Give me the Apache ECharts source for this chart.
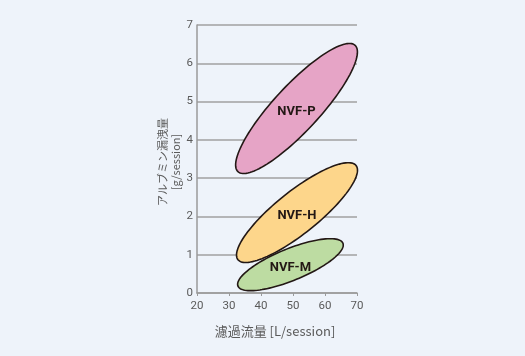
<!DOCTYPE html>
<html>
<head>
<meta charset="utf-8">
<script src="https://cdn.jsdelivr.net/npm/echarts@6/dist/echarts.min.js"></script>
<style>
html,body{margin:0;padding:0;background:#eef3fa;}
#c{width:525px;height:356px;}
</style>
</head>
<body>
<div id="c"></div>
<script>
// Data
var groups = ['NVF-P', 'NVF-H', 'NVF-M'];
// ellipse centre (flow L/session, leak g/session)
var centerX = [51.1, 51.25, 49.2];
var centerY = [4.82, 2.10, 0.74];
// upper-right tip of the long axis
var tipX = [69.4, 69.7, 65.6];
var tipY = [6.47, 3.33, 1.30];
// minor/major axis ratio
var aspect = [0.265, 0.28, 0.28];
var fills = ['#e6a4c6', '#fdd68b', '#bddca2'];
var xTicks = [20, 30, 40, 50, 60, 70];
var yTicks = [0, 1, 2, 3, 4, 5, 6, 7];

var chart = echarts.init(document.getElementById('c'));
var data = groups.map(function (g, i) {
  return [centerX[i], centerY[i], tipX[i], tipY[i], aspect[i], g];
});

chart.setOption({
  backgroundColor: '#eef3fa',
  animation: false,
  grid: { left: 197, right: 168, top: 25, bottom: 63 },
  xAxis: {
    type: 'value', min: xTicks[0], max: xTicks[xTicks.length - 1], interval: 10,
    axisLine: { show: true, onZero: false, lineStyle: { color: '#9a9a9a', width: 1.5 } },
    axisTick: { show: true, length: 3, lineStyle: { color: '#9a9a9a' } },
    axisLabel: { color: '#5a5a5a', fontSize: 11.5, fontFamily: 'Roboto', margin: 7 },
    splitLine: { show: false }
  },
  yAxis: {
    type: 'value', min: yTicks[0], max: yTicks[yTicks.length - 1], interval: 1,
    axisLine: { show: true, lineStyle: { color: '#9a9a9a', width: 1.5 } },
    axisTick: { show: false },
    axisLabel: { color: '#5a5a5a', fontSize: 11.5, fontFamily: 'Roboto', margin: 4 },
    splitLine: { show: true, lineStyle: { color: '#a0a0a0', width: 1.5 } }
  },
  graphic: [
    {
      type: 'text', x: 169, y: 162, rotation: Math.PI / 2,
      style: {
        text: 'アルブミン漏洩量\n[g/session]', fill: '#5a5a5a',
        font: '11px "Noto Sans CJK JP"', align: 'center', verticalAlign: 'middle', lineHeight: 13
      }
    },
    {
      type: 'text', x: 275, y: 331,
      style: {
        text: '濾過流量 [L/session]', fill: '#5a5a5a',
        font: '13px "Noto Sans CJK JP"', align: 'center', verticalAlign: 'middle'
      }
    }
  ],
  series: [{
    type: 'custom',
    data: data,
    encode: { x: [0, 2], y: [1, 3] },
    renderItem: function (params, api) {
      var i = params.dataIndex;
      var c = api.coord([api.value(0), api.value(1)]);
      var t = api.coord([api.value(2), api.value(3)]);
      var r = api.value(4);
      var ux = t[0] - c[0], uy = t[1] - c[1];
      var vx = -uy * r, vy = ux * r;
      var pts = [];
      var n = 120;
      for (var k = 0; k < n; k++) {
        var th = 2 * Math.PI * k / n;
        pts.push([c[0] + ux * Math.cos(th) + vx * Math.sin(th),
                  c[1] + uy * Math.cos(th) + vy * Math.sin(th)]);
      }
      return {
        type: 'group',
        children: [
          {
            type: 'polygon',
            shape: { points: pts },
            style: { fill: fills[i], stroke: '#231815', lineWidth: 1.6 }
          },
          {
            type: 'text',
            x: c[0], y: c[1] + 3,
            style: {
              text: groups[i], fill: '#231815',
              font: 'bold 13px Roboto', align: 'center', verticalAlign: 'middle'
            }
          }
        ]
      };
    }
  }]
});
</script>
</body>
</html>
